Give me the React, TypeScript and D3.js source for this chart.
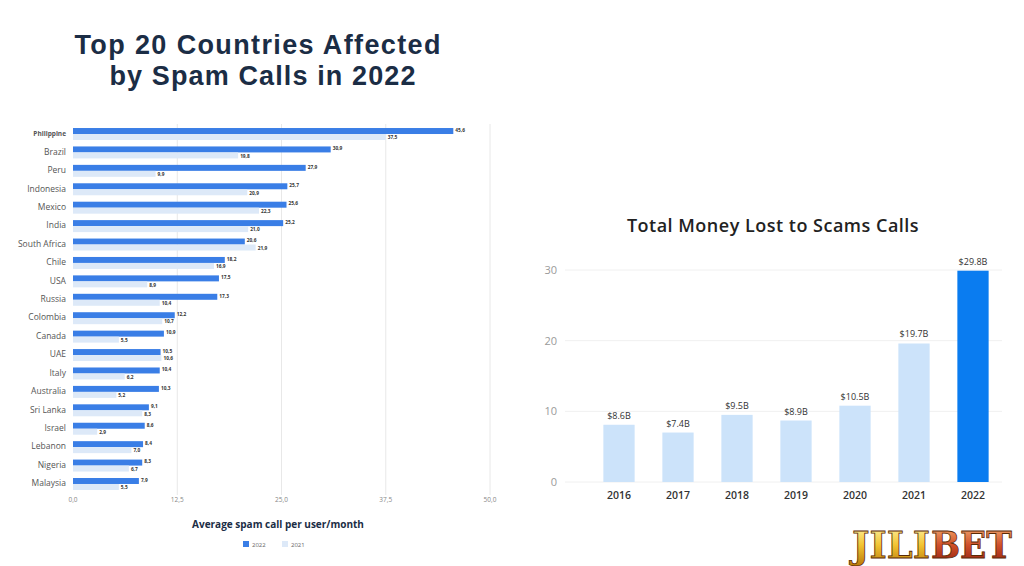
import React from "react";
import * as d3 from "d3";

const countries = ["Philippine","Brazil","Peru","Indonesia","Mexico","India","South Africa","Chile","USA","Russia","Colombia","Canada","UAE","Italy","Australia","Sri Lanka","Israel","Lebanon","Nigeria","Malaysia"];
const values2022 = [45.6,30.9,27.9,25.7,25.6,25.2,20.6,18.2,17.5,17.3,12.2,10.9,10.5,10.4,10.3,9.1,8.6,8.4,8.3,7.9];
const values2021 = [37.5,19.8,9.9,20.9,22.3,21.0,21.9,16.9,8.9,10.4,10.7,5.5,10.6,6.2,5.2,8.3,2.9,7.0,6.7,5.5];
const xTicks = [0, 12.5, 25, 37.5, 50];
const seriesNames = ["2022", "2021"];

const years = ["2016","2017","2018","2019","2020","2021","2022"];
const moneyLost = [8.1, 7.0, 9.5, 8.7, 10.8, 19.6, 29.9];
const moneyLabels = ["$8.6B","$7.4B","$9.5B","$8.9B","$10.5B","$19.7B","$29.8B"];
const yTicks = [0, 10, 20, 30];

const C2022 = "#3a7ee6";
const C2021 = "#dde9f8";
const NAVY = "#1b2d45";

const fmt = (v: number) => d3.format(".1f")(v).replace(".", ",");

export default function App() {
  const x = d3.scaleLinear().domain([0, 50]).range([73, 490]);
  const y = d3.scaleBand<string>().domain(countries).range([124.8, 493.2]).paddingInner(0.35).paddingOuter(0.175);
  const sub = d3.scaleBand<string>().domain(seriesNames).range([0, y.bandwidth()]);

  const bx = d3.scaleBand<string>().domain(years).range([589.5, 1002.5]).paddingInner(0.47).paddingOuter(0.235);
  const by = d3.scaleLinear().domain([0, 30]).range([482, 270]);

  const font = "'Open Sans', sans-serif";

  return (
    <svg width={1024} height={566} style={{ position: "absolute", left: 0, top: 0, background: "#fff" }} fontFamily={font}>
      <defs>
        <linearGradient id="gold" x1="0" y1="0" x2="0" y2="1">
          <stop offset="0" stopColor="#fff6b0" />
          <stop offset="0.5" stopColor="#f2c432" />
          <stop offset="1" stopColor="#b87708" />
        </linearGradient>
        <linearGradient id="red" x1="0" y1="0" x2="0" y2="1">
          <stop offset="0" stopColor="#f8b878" />
          <stop offset="0.5" stopColor="#d0502a" />
          <stop offset="1" stopColor="#8a1a0c" />
        </linearGradient>
      </defs>

      <text textAnchor="middle" fontSize={27} fontWeight={700} fill={NAVY} fontFamily="'Liberation Sans', Arial, sans-serif">
        <tspan x={257.5} y={54} textLength={366}>Top 20 Countries Affected</tspan>
        <tspan x={262.5} y={85} textLength={306}>by Spam Calls in 2022</tspan>
      </text>

      {xTicks.slice(1).map((t) => (
        <line key={t} x1={x(t)} x2={x(t)} y1={124} y2={495} stroke="#e8e8e8" strokeWidth={1} />
      ))}

      {countries.map((c, i) => {
        const y0 = y(c)!;
        const yb = y0 + sub("2022")!;
        const yl = y0 + sub("2021")!;
        const h = sub.bandwidth();
        return (
          <g key={c}>
            <rect x={x(0)} y={yb} width={x(values2022[i]) - x(0)} height={h} fill={C2022} />
            <rect x={x(0)} y={yl} width={x(values2021[i]) - x(0)} height={h} fill={C2021} />
            <text x={x(values2022[i]) + 2} y={yb + h / 2 - 0.5} fontSize={4.8} fontWeight={700} fill="#333" dominantBaseline="middle">{fmt(values2022[i])}</text>
            <text x={x(values2021[i]) + 2} y={yl + h / 2 + 1} fontSize={4.8} fontWeight={700} fill="#333" dominantBaseline="middle">{fmt(values2021[i])}</text>
            <text x={66} y={y0 + y.bandwidth() / 2} textAnchor="end" dominantBaseline="middle"
              fontSize={i === 0 ? 6.5 : 8.5} fontWeight={i === 0 ? 700 : 400} fill="#555">{c}</text>
          </g>
        );
      })}

      {xTicks.map((t) => (
        <text key={t} x={x(t)} y={502} textAnchor="middle" fontSize={6.5} fill="#888">{fmt(t)}</text>
      ))}

      <text x={278} y={528} textAnchor="middle" fontSize={10} fontWeight={700} fill={NAVY}>Average spam call per user/month</text>

      <rect x={243} y={541} width={6} height={6} fill={C2022} />
      <text x={252} y={546.5} fontSize={6} fill="#666">2022</text>
      <rect x={282} y={541} width={6} height={6} fill={C2021} />
      <text x={291} y={546.5} fontSize={6} fill="#666">2021</text>

      <text x={773} y={232} textAnchor="middle" fontSize={18} letterSpacing={0.5} fontWeight={600} fill="#222">Total Money Lost to Scams Calls</text>

      {yTicks.map((t) => (
        <g key={t}>
          <line x1={565} x2={1002} y1={by(t)} y2={by(t)} stroke="#f0f0f0" />
          <text x={557} y={by(t) + 4} textAnchor="end" fontSize={11} fill="#9a9a9a">{t}</text>
        </g>
      ))}

      {years.map((yr, i) => (
        <g key={yr}>
          <rect x={bx(yr)} y={by(moneyLost[i])} width={bx.bandwidth()} height={by(0) - by(moneyLost[i])}
            fill={i === years.length - 1 ? "#0a7cf0" : "#cce3fa"} />
          <text x={bx(yr)! + bx.bandwidth() / 2} y={by(moneyLost[i]) - 6} textAnchor="middle" fontSize={9} fill="#333">{moneyLabels[i]}</text>
          <text x={bx(yr)! + bx.bandwidth() / 2} y={499} textAnchor="middle" fontSize={10.5} fontWeight={600} fill="#333">{yr}</text>
        </g>
      ))}

      <text y={558} fontFamily="'DejaVu Serif', serif" fontWeight={700} fontSize={37} stroke="#5a2a05" strokeWidth={0.8}>
        <tspan x={852} fill="url(#gold)" textLength={78} lengthAdjust="spacingAndGlyphs">JILI</tspan>
        <tspan x={931} fill="url(#red)" textLength={81} lengthAdjust="spacingAndGlyphs">BET</tspan>
      </text>
    </svg>
  );
}
